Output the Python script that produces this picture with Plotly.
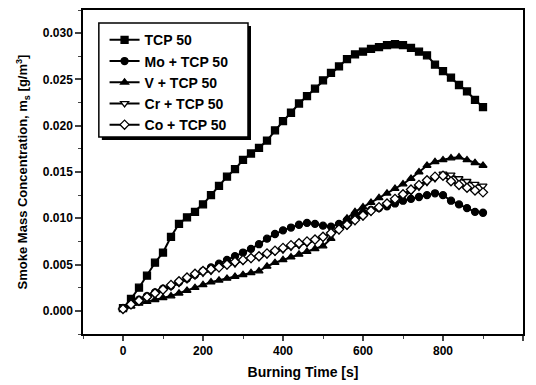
import plotly.graph_objects as go

time_s = [0, 20, 40, 60, 80, 100, 120, 140, 160, 180, 200, 220, 240, 260, 280, 300,
          320, 340, 360, 380, 400, 420, 440, 460, 480, 500, 520, 540, 560, 580, 600,
          620, 640, 660, 680, 700, 720, 740, 760, 780, 800, 820, 840, 860, 880, 900]

tcp50 = [0.0003, 0.0013, 0.0025, 0.0038, 0.0052, 0.0063, 0.0080, 0.0094, 0.0101, 0.0107,
         0.0115, 0.0125, 0.0135, 0.0145, 0.0153, 0.0163, 0.0170, 0.0176, 0.0184, 0.0195,
         0.0205, 0.0214, 0.0224, 0.0232, 0.0240, 0.0249, 0.0257, 0.0264, 0.0272, 0.0277,
         0.0280, 0.0283, 0.0285, 0.0287, 0.0288, 0.0287, 0.0284, 0.0280, 0.0276, 0.0266,
         0.0259, 0.0252, 0.0244, 0.0237, 0.0228, 0.0220]

mo_tcp50 = [0.0003, 0.0008, 0.0012, 0.0016, 0.0020, 0.0024, 0.0027, 0.0031, 0.0035, 0.0039,
            0.0043, 0.0047, 0.0051, 0.0055, 0.0059, 0.0063, 0.0067, 0.0072, 0.0078, 0.0083,
            0.0087, 0.0090, 0.0093, 0.0095, 0.0094, 0.0092, 0.0091, 0.0094, 0.0098, 0.0102,
            0.0106, 0.0109, 0.0111, 0.0113, 0.0116, 0.0119, 0.0121, 0.0123, 0.0125, 0.0127,
            0.0125, 0.0119, 0.0115, 0.0111, 0.0107, 0.0106]

v_tcp50 = [0.0002, 0.0005, 0.0008, 0.0010, 0.0012, 0.0014, 0.0016, 0.0019, 0.0022, 0.0025,
           0.0028, 0.0031, 0.0033, 0.0035, 0.0037, 0.0039, 0.0041, 0.0043, 0.0048, 0.0052,
           0.0055, 0.0058, 0.0061, 0.0064, 0.0067, 0.0070, 0.0078, 0.0090, 0.0100, 0.0107,
           0.0112, 0.0117, 0.0122, 0.0127, 0.0132, 0.0137, 0.0143, 0.0150, 0.0157, 0.0161,
           0.0163, 0.0165, 0.0166, 0.0163, 0.0160, 0.0157]

cr_tcp50 = [0.0002, 0.0006, 0.0010, 0.0014, 0.0018, 0.0022, 0.0026, 0.0030, 0.0034, 0.0038,
            0.0041, 0.0043, 0.0046, 0.0049, 0.0051, 0.0054, 0.0056, 0.0058, 0.0061, 0.0064,
            0.0066, 0.0069, 0.0071, 0.0073, 0.0076, 0.0079, 0.0083, 0.0087, 0.0092, 0.0097,
            0.0102, 0.0107, 0.0111, 0.0115, 0.0119, 0.0124, 0.0129, 0.0134, 0.0139, 0.0143,
            0.0148, 0.0147, 0.0143, 0.0140, 0.0137, 0.0135]

co_tcp50 = [0.0002, 0.0007, 0.0011, 0.0015, 0.0019, 0.0023, 0.0028, 0.0032, 0.0036, 0.0040,
            0.0043, 0.0045, 0.0047, 0.0050, 0.0053, 0.0055, 0.0057, 0.0059, 0.0062, 0.0065,
            0.0068, 0.0071, 0.0073, 0.0075, 0.0077, 0.0080, 0.0084, 0.0088, 0.0093, 0.0098,
            0.0103, 0.0108, 0.0112, 0.0116, 0.0121, 0.0126, 0.0131, 0.0136, 0.0141, 0.0145,
            0.0146, 0.0140, 0.0136, 0.0133, 0.0130, 0.0128]

series_names = ["TCP 50", "Mo + TCP 50", "V + TCP 50", "Cr + TCP 50", "Co + TCP 50"]
x_ticks = [0, 200, 400, 600, 800, 1000]
y_ticks = [0.000, 0.005, 0.010, 0.015, 0.020, 0.025, 0.030]

FONT = "Arial, Liberation Sans, sans-serif"

styles = [
    dict(symbol="square", color="black"),
    dict(symbol="circle", color="black"),
    dict(symbol="triangle-up", color="black"),
    dict(symbol="triangle-down", color="white"),
    dict(symbol="diamond", color="white"),
]

fig = go.Figure()
for name, vals, st in zip(series_names, [tcp50, mo_tcp50, v_tcp50, cr_tcp50, co_tcp50], styles):
    fig.add_trace(go.Scatter(
        x=time_s, y=vals, name=name, mode="lines+markers",
        line=dict(color="black", width=2),
        marker=dict(symbol=st["symbol"], size=7, color=st["color"],
                    line=dict(color="black", width=1.3)),
    ))

# legend frame with drop shadow (positions in paper coords)
lx0, lx1, ly0, ly1 = 0.036, 0.375, 0.608, 0.960
sx, sy = 3 / 440, 3 / 324
fig.add_shape(type="rect", xref="paper", yref="paper",
              x0=lx0 + sx, x1=lx1 + sx, y0=ly0 - sy, y1=ly1 - sy,
              fillcolor="black", line=dict(width=0), layer="above")
fig.add_shape(type="rect", xref="paper", yref="paper",
              x0=lx0, x1=lx1, y0=ly0, y1=ly1,
              fillcolor="white", line=dict(color="black", width=1.5), layer="above")

fig.update_layout(
    width=528, height=377,
    margin=dict(l=75, r=13, t=2, b=51, autoexpand=False),
    paper_bgcolor="white", plot_bgcolor="white",
    font=dict(family=FONT, color="black", size=12, weight="bold"),
    showlegend=True,
    legend=dict(x=lx0 + 0.013, y=ly1 - 0.004, xanchor="left", yanchor="top",
                bgcolor="rgba(0,0,0,0)", borderwidth=0,
                font=dict(family=FONT, size=14, color="black", weight="bold"),
                tracegroupgap=0, itemsizing="trace"),
    xaxis=dict(range=[-100, 1000], tickvals=x_ticks, ticks="outside", ticklen=5,
               tickwidth=1.5, showline=True, linecolor="black", linewidth=1.5,
               mirror=True, showgrid=False, zeroline=False, automargin=False,
               minor=dict(dtick=100, tick0=0, ticks="outside", ticklen=3, tickwidth=1),
               tickfont=dict(size=12, weight="bold"),
               title=dict(text="Burning Time [s]", font=dict(size=14, weight="bold"),
                          standoff=10)),
    yaxis=dict(range=[-0.0025, 0.0325], tickvals=y_ticks, tickformat=".3f",
               ticks="outside", ticklen=6, tickwidth=1.5, showline=True,
               linecolor="black", linewidth=1.5, mirror=True, showgrid=False,
               zeroline=False, automargin=False,
               minor=dict(dtick=0.0025, tick0=0, ticks="outside", ticklen=3, tickwidth=1),
               tickfont=dict(size=12, weight="bold"),
               title=dict(text="Smoke Mass Concentration, m<sub>s</sub> [g/m<sup>3</sup>]",
                          font=dict(size=13, weight="bold"), standoff=12)),
)

fig.write_html("out.html")
